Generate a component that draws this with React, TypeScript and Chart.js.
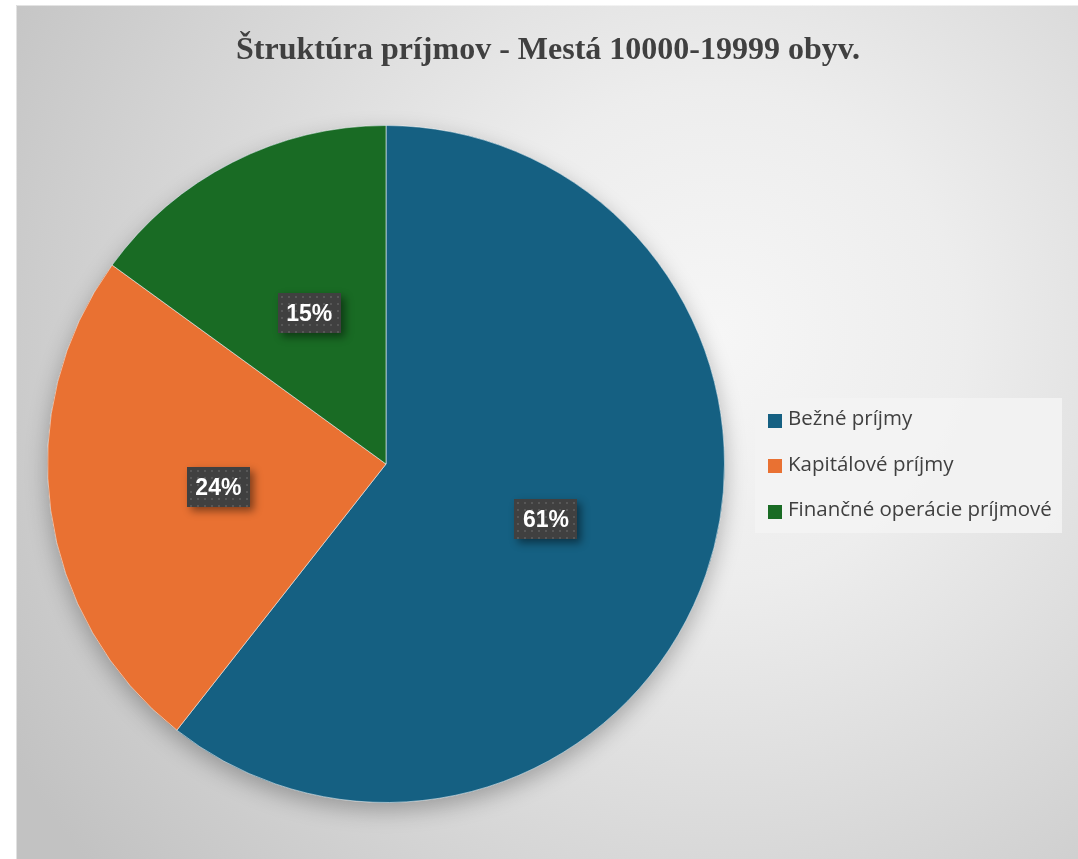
import React, { useEffect, useRef } from 'react';
import { Chart, registerables } from 'chart.js';

Chart.register(...registerables);

const categories = ['Bežné príjmy', 'Kapitálové príjmy', 'Finančné operácie príjmové'];
const shares = [60.6, 24.4, 15.0];
const colors = ['#156082', '#E97132', '#196B24'];
const titleText = 'Štruktúra príjmov - Mestá 10000-19999 obyv.';

const W = 1062;
const H = 854;

const backgroundPlugin = {
  id: 'bgGradient',
  beforeDraw(chart: any) {
    const ctx = chart.ctx;
    ctx.save();
    const g = ctx.createRadialGradient(700, 330, 0, 700, 330, 820);
    g.addColorStop(0, '#f6f6f6');
    g.addColorStop(0.3, '#ededed');
    g.addColorStop(1, '#c2c2c2');
    ctx.fillStyle = g;
    ctx.fillRect(0, 0, chart.width, chart.height);
    ctx.strokeStyle = 'rgba(255,255,255,0.5)';
    ctx.lineWidth = 1;
    ctx.beginPath();
    ctx.moveTo(0.5, chart.height);
    ctx.lineTo(0.5, 0.5);
    ctx.lineTo(chart.width, 0.5);
    ctx.stroke();
    ctx.restore();
  },
};

const titlePlugin = {
  id: 'customTitle',
  afterDraw(chart: any) {
    const ctx = chart.ctx;
    ctx.save();
    ctx.font = 'bold 32px "Liberation Serif", "Times New Roman", serif';
    ctx.fillStyle = '#404040';
    ctx.textAlign = 'center';
    ctx.textBaseline = 'alphabetic';
    ctx.fillText(titleText, 532, 54);
    ctx.restore();
  },
};

const pieShadowPlugin = {
  id: 'pieShadow',
  beforeDatasetsDraw(chart: any) {
    const arc = chart.getDatasetMeta(0).data[0];
    if (!arc) return;
    const ctx = chart.ctx;
    ctx.save();
    ctx.shadowColor = 'rgba(0,0,0,0.28)';
    ctx.shadowBlur = 22;
    ctx.shadowOffsetY = 8;
    ctx.beginPath();
    ctx.arc(arc.x, arc.y, arc.outerRadius, 0, Math.PI * 2);
    ctx.fillStyle = colors[0];
    ctx.fill();
    ctx.restore();
  },
};

const labelPlugin = {
  id: 'pctLabels',
  afterDatasetsDraw(chart: any) {
    const ctx = chart.ctx;
    const data = chart.data.datasets[0].data as number[];
    const total = data.reduce((a, b) => a + b, 0);
    chart.getDatasetMeta(0).data.forEach((arc: any, i: number) => {
      const p = arc.tooltipPosition();
      const txt = Math.round((data[i] / total) * 100) + '%';
      ctx.save();
      ctx.font = 'bold 23px "Liberation Sans", Arial, sans-serif';
      const tw = ctx.measureText(txt).width;
      const bw = Math.round(tw + 17);
      const bh = 40;
      const x0 = Math.round(p.x - bw / 2);
      const y0 = Math.round(p.y - bh / 2);
      ctx.shadowColor = 'rgba(0,0,0,0.45)';
      ctx.shadowBlur = 8;
      ctx.shadowOffsetX = 4;
      ctx.shadowOffsetY = 4;
      ctx.fillStyle = '#404040';
      ctx.fillRect(x0, y0, bw, bh);
      ctx.shadowColor = 'transparent';
      ctx.fillStyle = 'rgba(255,255,255,0.12)';
      for (let yy = y0 + 3; yy < y0 + bh - 1; yy += 7) {
        for (let xx = x0 + 3; xx < x0 + bw - 1; xx += 7) {
          ctx.fillRect(xx, yy, 2, 2);
        }
      }
      ctx.fillStyle = '#ffffff';
      ctx.textAlign = 'center';
      ctx.textBaseline = 'middle';
      ctx.fillText(txt, p.x, p.y + 1);
      ctx.restore();
    });
  },
};

const legendPlugin = {
  id: 'customLegend',
  afterDraw(chart: any) {
    const ctx = chart.ctx;
    const labels = chart.data.labels as string[];
    const bg = chart.data.datasets[0].backgroundColor as string[];
    ctx.save();
    ctx.fillStyle = 'rgba(243,243,243,0.9)';
    ctx.fillRect(739, 393, 307, 135);
    ctx.font = '20.5px "Open Sans", "Noto Sans", sans-serif';
    ctx.textBaseline = 'middle';
    ctx.textAlign = 'left';
    labels.forEach((lab, i) => {
      const cy = 414.5 + i * 45.5;
      ctx.fillStyle = bg[i];
      ctx.fillRect(752, Math.round(cy - 6), 14, 14);
      ctx.fillStyle = '#404040';
      ctx.fillText(lab, 772, cy);
    });
    ctx.restore();
  },
};

export default function App() {
  const ref = useRef<HTMLCanvasElement>(null);
  useEffect(() => {
    document.body.style.overflow = 'hidden';
    const chart = new Chart(ref.current as HTMLCanvasElement, {
      type: 'pie',
      data: {
        labels: categories,
        datasets: [
          {
            data: shares,
            backgroundColor: colors,
            borderColor: 'rgba(255,255,255,0.55)',
            borderWidth: 1,
          },
        ],
      },
      options: {
        responsive: false,
        animation: false,
        events: [],
        rotation: 0,
        layout: { padding: { left: 31, right: 353, bottom: 56, top: 120 } },
        plugins: {
          legend: { display: false },
          tooltip: { enabled: false },
          title: { display: false },
        },
      },
      plugins: [backgroundPlugin, pieShadowPlugin, labelPlugin, legendPlugin, titlePlugin],
    } as any);
    return () => chart.destroy();
  }, []);
  return (
    <div style={{ position: 'absolute', left: 16, top: 5, width: W, height: H }}>
      <canvas ref={ref} width={W} height={H} style={{ display: 'block', width: W, height: H }} />
    </div>
  );
}
